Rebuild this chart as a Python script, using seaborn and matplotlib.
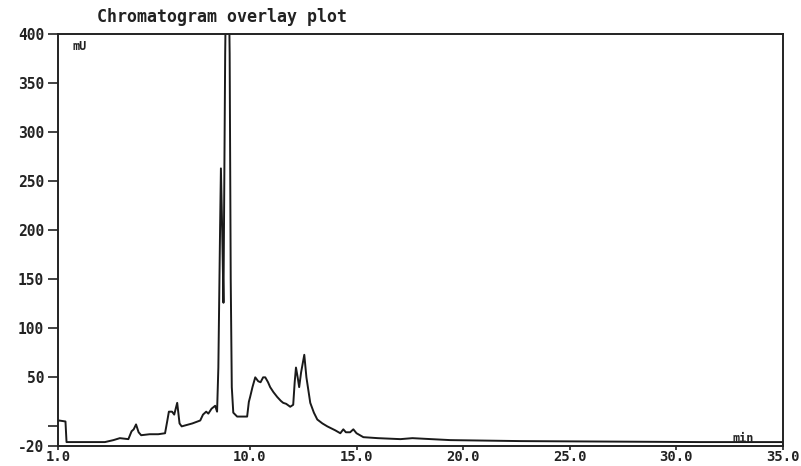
import pandas as pd
import matplotlib
matplotlib.use("Agg")
import matplotlib.pyplot as plt
import seaborn as sns

# retention time (min) and detector signal (mU)
time_min = [1.00, 1.05, 1.35, 1.40, 3.20, 3.60, 3.90, 4.30, 4.45, 4.55,
            4.66, 4.78, 4.90, 5.30, 5.70, 6.02, 6.12, 6.20, 6.35, 6.45,
            6.59, 6.70, 6.80, 7.30, 7.67, 7.80, 7.95, 8.05, 8.20, 8.37,
            8.46, 8.52, 8.60, 8.64, 8.70, 8.76, 8.84, 8.88, 9.00, 9.05,
            9.10, 9.15, 9.22, 9.40, 9.87, 9.95, 10.01, 10.12, 10.25, 10.39,
            10.50, 10.62, 10.72, 10.85, 10.95, 11.10, 11.28, 11.45, 11.56, 11.70,
            11.89, 12.03, 12.10, 12.16, 12.24, 12.31, 12.40, 12.55, 12.65, 12.83,
            13.00, 13.16, 13.40, 13.63, 14.00, 14.24, 14.38, 14.50, 14.70, 14.85,
            15.00, 15.32, 16.00, 17.06, 17.62, 18.50, 19.40, 22.70, 31.10, 34.80,
            35.00]
signal_mu = [5, 6, 5, -16, -16, -14, -12, -13, -5, -3,
             2, -6, -9, -8, -8, -7, 5, 15, 15, 12,
             24, 3, 0, 3, 6, 12, 15, 13, 18, 21,
             15, 60, 200, 263, 200, 126, 380, 450, 470, 380,
             150, 40, 14, 10, 10, 25, 30, 40, 50, 46,
             45, 50, 50, 45, 40, 35, 30, 26, 24, 23,
             20, 22, 45, 60, 50, 40, 55, 73, 50, 24,
             14, 7, 3, 0, -4, -7, -3, -6, -6, -3,
             -7, -11, -12, -13, -12, -13, -14, -15, -16, -16,
             -16]

x_ticks = [1, 10, 15, 20, 25, 30, 35]
x_labels = ["1.0", "10.0", "15.0", "20.0", "25.0", "30.0", "35.0"]
y_ticks = [-20, 0, 50, 100, 150, 200, 250, 300, 350, 400]
y_labels = ["-20", "", "50", "100", "150", "200", "250", "300", "350", "400"]

df = pd.DataFrame({"Time": time_min, "Signal": signal_mu})

sns.set_style("ticks")
plt.rcParams['font.family'] = ['DejaVu Sans Mono']
plt.rcParams['axes.unicode_minus'] = False

fig = plt.figure(figsize=(8.01, 4.66), dpi=100)
ax = fig.add_axes([58/801, 20/466, 725/801, 412/466])

sns.lineplot(data=df, x="Time", y="Signal", estimator=None, sort=True,
             color="#1a1a1a", linewidth=1.4, ax=ax)

ax.set_xlim(1, 35)
ax.set_ylim(-20, 400)
ax.set_xticks(x_ticks)
ax.set_xticklabels(x_labels)
ax.set_yticks(y_ticks)
ax.set_yticklabels(y_labels)
ax.set_xlabel("")
ax.set_ylabel("")

for s in ax.spines.values():
    s.set_linewidth(1.4)
    s.set_color("#222222")
ax.tick_params(axis="y", direction="out", length=7, width=1.2, labelsize=10.5, pad=3, colors="#222222")
ax.tick_params(axis="x", direction="out", length=3, width=1.2, labelsize=10, pad=0, colors="#222222")
for lab in ax.get_xticklabels() + ax.get_yticklabels():
    lab.set_fontweight("bold")

ax.text(0.054, 1.02, "Chromatogram overlay plot", transform=ax.transAxes,
        fontsize=12, fontweight="bold", ha="left", va="bottom", color="#222222")
ax.text(0.02, 0.985, "mU", transform=ax.transAxes, fontsize=8.5,
        fontweight="bold", ha="left", va="top", color="#222222")
ax.text(0.93, 0.002, "min", transform=ax.transAxes, fontsize=8.5,
        fontweight="bold", ha="left", va="bottom", color="#222222")

fig.savefig("out.png", dpi=100)
